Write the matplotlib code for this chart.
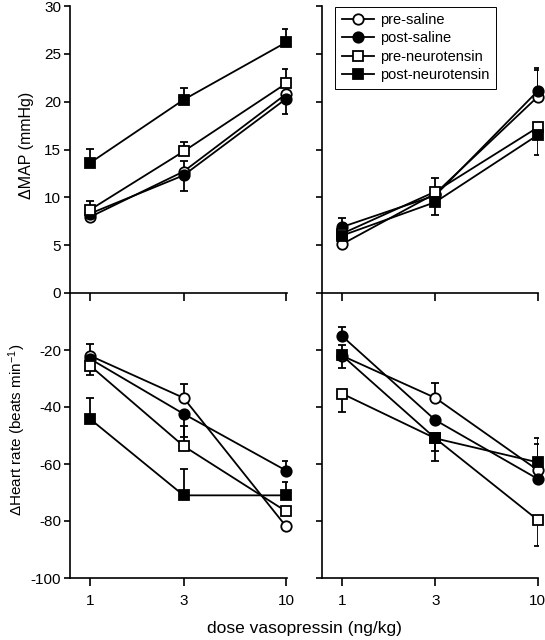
import matplotlib
matplotlib.use('Agg')
import matplotlib.pyplot as plt
from matplotlib.ticker import NullLocator, FixedLocator, FixedFormatter

plt.rcParams['font.family'] = ['Liberation Sans', 'DejaVu Sans']
plt.rcParams['mathtext.fontset'] = 'custom'
plt.rcParams['mathtext.rm'] = 'Liberation Sans'
plt.rcParams['mathtext.it'] = 'Liberation Sans:italic'
plt.rcParams['axes.unicode_minus'] = False

# ---------------- data ----------------
doses = [1, 3, 10]
dose_labels = ['1', '3', '10']
series_names = ['pre-saline', 'post-saline', 'pre-neurotensin', 'post-neurotensin']

# Delta MAP, left panel (values, signed SEM: + bar up, - bar down)
mapL_pre_saline = [7.95, 12.7, 20.8]
mapL_post_saline = [8.3, 12.3, 20.3]
mapL_pre_neuro = [8.7, 14.8, 21.9]
mapL_post_neuro = [13.6, 20.2, 26.2]
mapL_err_pre_saline = [0, 1.1, 0]
mapL_err_post_saline = [0, -1.6, -1.6]
mapL_err_pre_neuro = [0.9, 1.0, 1.5]
mapL_err_post_neuro = [1.5, 1.2, 1.4]

# Delta MAP, right panel
mapR_pre_saline = [5.1, 10.4, 20.5]
mapR_post_saline = [6.9, 10.2, 21.1]
mapR_pre_neuro = [6.2, 10.6, 17.3]
mapR_post_neuro = [6.0, 9.5, 16.5]
mapR_err_pre_saline = [0, 0, 2.8]
mapR_err_post_saline = [0.9, 0, 2.4]
mapR_err_pre_neuro = [0, 1.4, 0]
mapR_err_post_neuro = [0, -1.3, -2.1]

# Delta heart rate, left panel
hrL_pre_saline = [-22.0, -36.8, -81.9]
hrL_post_saline = [-23.1, -42.4, -62.3]
hrL_pre_neuro = [-25.5, -53.7, -76.6]
hrL_post_neuro = [-44.2, -71.0, -71.0]
hrL_err_pre_saline = [4.1, 4.7, 0]
hrL_err_post_saline = [0, -8.0, 3.5]
hrL_err_pre_neuro = [-3.2, 7.0, 0]
hrL_err_post_neuro = [7.4, 9.3, 4.6]

# Delta heart rate, right panel
hrR_pre_saline = [-22.0, -36.8, -62.1]
hrR_post_saline = [-15.1, -44.6, -65.2]
hrR_pre_neuro = [-35.3, -51.0, -79.6]
hrR_post_neuro = [-21.9, -51.0, -59.4]
hrR_err_pre_saline = [3.6, 5.2, 9.0]
hrR_err_post_saline = [3.1, 0, 0]
hrR_err_pre_neuro = [-6.3, -4.4, -9.0]
hrR_err_post_neuro = [-4.3, -7.9, 8.4]

map_ticks = [0, 5, 10, 15, 20, 25, 30]
hr_ticks = [-100, -80, -60, -40, -20]

# ---------------- styles ----------------
markers = ['o', 'o', 's', 's']
faces = ['white', 'black', 'white', 'black']

fig = plt.figure(figsize=(5.45, 6.4), dpi=100)

W = 545.0
H = 640.0
xlim = (0.79, 10.05)

def make_ax(x0, ytop, ybot, width_px):
    return fig.add_axes([x0 / W, 1 - ybot / H, width_px / W, (ybot - ytop) / H])

axTL = make_ax(70, 6, 293, 216.5)
axTR = make_ax(322, 6, 293, 216.0)
axBL = make_ax(70, 293, 578, 216.5)
axBR = make_ax(322, 293, 578, 216.0)

panels = [
    (axTL, [mapL_pre_saline, mapL_post_saline, mapL_pre_neuro, mapL_post_neuro],
     [mapL_err_pre_saline, mapL_err_post_saline, mapL_err_pre_neuro, mapL_err_post_neuro]),
    (axTR, [mapR_pre_saline, mapR_post_saline, mapR_pre_neuro, mapR_post_neuro],
     [mapR_err_pre_saline, mapR_err_post_saline, mapR_err_pre_neuro, mapR_err_post_neuro]),
    (axBL, [hrL_pre_saline, hrL_post_saline, hrL_pre_neuro, hrL_post_neuro],
     [hrL_err_pre_saline, hrL_err_post_saline, hrL_err_pre_neuro, hrL_err_post_neuro]),
    (axBR, [hrR_pre_saline, hrR_post_saline, hrR_pre_neuro, hrR_post_neuro],
     [hrR_err_pre_saline, hrR_err_post_saline, hrR_err_pre_neuro, hrR_err_post_neuro]),
]

lw = 1.3
handles = []
for pi, (ax, vals, errs) in enumerate(panels):
    for si in range(4):
        e = errs[si]
        lower = [-min(v, 0) for v in e]
        upper = [max(v, 0) for v in e]
        ax.errorbar(doses, vals[si], yerr=[lower, upper], fmt='none', ecolor='black',
                    elinewidth=lw, capsize=3.0, capthick=lw, zorder=2 + si * 0.1)
        ln, = ax.plot(doses, vals[si], marker=markers[si], color='black',
                      markerfacecolor=faces[si], markeredgecolor='black',
                      markersize=7.5, markeredgewidth=lw, linewidth=lw,
                      zorder=3 + si * 0.1, label=series_names[si], clip_on=False)
        if pi == 1:
            handles.append(ln)

for ax in [axTL, axTR, axBL, axBR]:
    ax.set_xscale('log')
    ax.set_xlim(*xlim)
    ax.xaxis.set_major_locator(FixedLocator(doses))
    ax.xaxis.set_major_formatter(FixedFormatter(dose_labels))
    ax.xaxis.set_minor_locator(NullLocator())
    ax.spines['top'].set_visible(False)
    ax.spines['right'].set_visible(False)
    for s in ['left', 'bottom']:
        ax.spines[s].set_linewidth(1.2)
    ax.tick_params(axis='x', direction='out', length=5.5, width=1.2, labelsize=11, pad=6)
    ax.tick_params(axis='y', direction='out', length=4.5, width=1.2, labelsize=11, pad=2)
    ax.set_facecolor('none')

for ax in [axTL, axTR]:
    ax.set_ylim(0, 30)
    ax.set_yticks(map_ticks)
    ax.tick_params(axis='x', labelbottom=False)

for ax in [axBL, axBR]:
    ax.set_ylim(-100, 0)
    ax.set_yticks(hr_ticks)

for ax in [axTR, axBR]:
    ax.tick_params(axis='y', labelleft=False)

leg = fig.legend(handles=handles, labels=series_names, loc='upper left',
                 bbox_to_anchor=(335 / W, 1 - 6.5 / H), frameon=True, fancybox=False,
                 edgecolor='black', framealpha=1, fontsize=10.5, handlelength=2.2,
                 borderpad=0.45, labelspacing=0.3, handletextpad=0.45, borderaxespad=0)
leg.get_frame().set_linewidth(0.7)

fig.text(27 / W, 1 - 145 / H, '\u0394MAP (mmHg)', rotation=90, ha='center', va='center',
         fontsize=11.5)
fig.text(17 / W, 1 - 430 / H, '\u0394Heart rate (beats min$^{-1}$)', rotation=90,
         ha='center', va='center', fontsize=11)
fig.text(304 / W, 1 - 628 / H, 'dose vasopressin (ng/kg)', ha='center', va='center',
         fontsize=12.5)

fig.savefig('out.png', dpi=100)
